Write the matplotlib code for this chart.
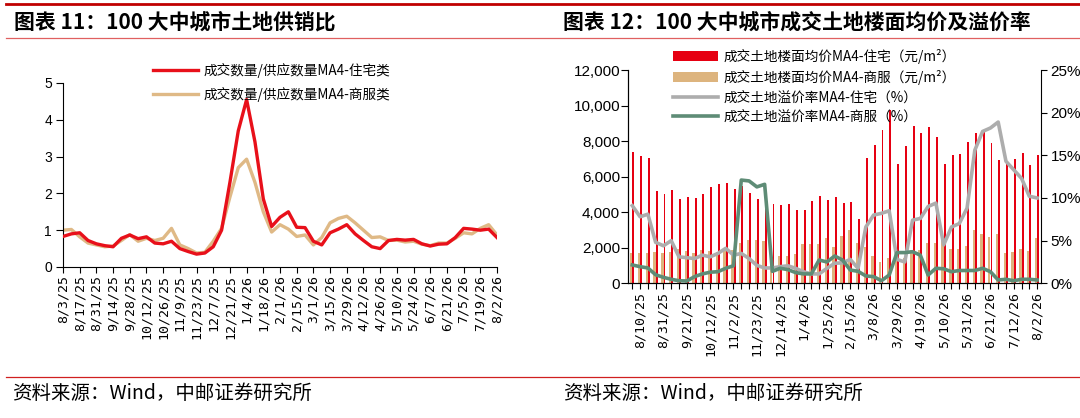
import numpy as np
import pandas as pd
import matplotlib
matplotlib.use('Agg')
import matplotlib.pyplot as plt
from matplotlib.lines import Line2D
from matplotlib.ticker import FuncFormatter

plt.rcParams['font.family'] = ['Liberation Sans', 'Noto Sans CJK SC']
CJK = ['Noto Sans CJK SC', 'DejaVu Sans']

# weekly dates, 8/3/25 .. 8/2/26
weeks = pd.date_range('2025-08-03', '2026-08-02', freq='7D')
week_labels = [f"{d.month}/{d.day}/{d:%y}" for d in weeks]

# chart 11: sales / supply ratio MA4
ratio_resi = [0.83, 0.90, 0.93, 0.72, 0.63, 0.58, 0.55, 0.78, 0.87, 0.77,
              0.82, 0.65, 0.63, 0.70, 0.50, 0.42, 0.35, 0.38, 0.55, 1.00,
              2.30, 3.70, 4.55, 3.40, 1.85, 1.10, 1.35, 1.50, 1.08, 1.07,
              0.70, 0.60, 0.93, 1.03, 1.15, 0.90, 0.72, 0.55, 0.50, 0.72,
              0.75, 0.73, 0.75, 0.63, 0.57, 0.62, 0.63, 0.80, 1.05, 1.03,
              1.00, 1.03, 0.80]
ratio_comm = [1.00, 1.02, 0.82, 0.65, 0.60, 0.55, 0.57, 0.72, 0.88, 0.70,
              0.78, 0.72, 0.78, 1.05, 0.60, 0.50, 0.38, 0.40, 0.70, 1.05,
              1.90, 2.70, 2.93, 2.30, 1.50, 0.95, 1.15, 1.03, 0.83, 0.87,
              0.60, 0.80, 1.20, 1.32, 1.38, 1.20, 1.00, 0.80, 0.82, 0.72,
              0.73, 0.68, 0.70, 0.62, 0.58, 0.65, 0.65, 0.78, 0.93, 0.90,
              1.05, 1.15, 0.87]
ratio_names = ['成交数量/供应数量MA4-住宅类', '成交数量/供应数量MA4-商服类']

# chart 12: floor price (yuan/m2) and premium rate (%)
price_resi = [7400, 7160, 7050, 5190, 5000, 5240, 4730, 4840, 4790, 5040,
              5400, 5590, 5640, 5290, 5490, 5100, 4740, 4930, 4480, 4390,
              4440, 4120, 4120, 4630, 4890, 4690, 4840, 4540, 4550, 3600,
              7050, 7780, 8620, 9750, 6710, 7720, 8850, 8470, 8770, 8230,
              6710, 7220, 7270, 7930, 8440, 8500, 7870, 6920, 6850, 6990,
              7310, 6650, 7220]
price_comm = [1680, 1700, 1720, 1760, 1720, 1760, 1920, 1820, 1700, 1860,
              1820, 1780, 1850, 1900, 2250, 2450, 2420, 2360, 1870, 1550,
              1520, 1650, 2210, 2210, 2210, 2530, 2060, 2660, 3000, 2290,
              2060, 1520, 1200, 1420, 1300, 1450, 1850, 1900, 2290, 2290,
              2470, 1950, 1910, 2120, 3000, 2770, 2620, 2770, 1690, 1760,
              1910, 1800, 2570]
prem_resi = [9.1, 7.8, 8.1, 4.8, 4.4, 5.0, 3.1, 3.0, 2.9, 3.3,
             3.1, 3.5, 4.1, 3.3, 3.5, 2.9, 2.1, 1.8, 1.8, 1.95,
             2.05, 1.75, 1.35, 1.1, 1.1, 1.75, 2.35, 2.4, 2.8, 1.75,
             6.6, 8.0, 8.2, 8.5, 2.8, 2.5, 7.4, 7.6, 9.0, 9.4,
             4.5, 6.6, 7.0, 8.8, 15.6, 17.8, 18.2, 18.9, 14.3, 13.3,
             12.3, 10.2, 10.0]
prem_comm = [2.15, 1.95, 1.8, 1.0, 0.7, 0.47, 0.3, 0.27, 0.78, 1.1,
             1.3, 1.36, 1.76, 2.06, 12.1, 12.0, 11.3, 11.6, 1.4, 1.76,
             1.6, 1.25, 1.1, 1.1, 2.73, 2.5, 3.2, 2.73, 1.56, 1.4,
             0.86, 0.78, 0.3, 0.97, 3.6, 3.6, 3.7, 3.3, 0.97, 1.76,
             1.7, 1.36, 1.5, 1.5, 1.5, 1.76, 1.36, 0.39, 0.47, 0.3,
             0.47, 0.47, 0.39]
price_names = ['成交土地楼面均价MA4-住宅（元/m²）', '成交土地楼面均价MA4-商服（元/m²）',
               '成交土地溢价率MA4-住宅（%）', '成交土地溢价率MA4-商服（%）']

RED = '#E60012'
TAN = '#DDB47E'
GRAY = '#ADADAD'
GREEN = '#5E8C76'

W, H = 1080, 418
fig = plt.figure(figsize=(W / 100, H / 100), dpi=100)

def fx(px):
    return px / W

def fy(px):
    return 1 - px / H

x = np.arange(len(weeks))

# ---- left chart
ax1 = fig.add_axes([fx(63), fy(267), fx(497 - 63), (267 - 83) / H])
ax1.plot(x, ratio_resi, color='#E8101A', lw=2.4, label=ratio_names[0], zorder=3)
ax1.plot(x, ratio_comm, color='#DFB986', lw=2.4, label=ratio_names[1], zorder=2)
ax1.set_xlim(0, len(x) - 1)
ax1.set_ylim(0, 5)
ax1.set_yticks(range(6))
ax1.set_xticks(x[::2])
ax1.set_xticklabels(week_labels[::2], rotation=90, family='DejaVu Sans Mono', fontsize=9.5)
ax1.tick_params(axis='x', length=4, pad=2)
ax1.tick_params(axis='y', length=5, pad=3, labelsize=10)
for s in ['top', 'right']:
    ax1.spines[s].set_visible(False)
ax1.legend(loc='upper left', bbox_to_anchor=(fx(153), fy(63)), bbox_transform=fig.transFigure,
           frameon=False, handlelength=3.3, handletextpad=0.45, labelspacing=0.65,
           borderpad=0, borderaxespad=0, prop={'family': CJK, 'size': 9.8})

# ---- right chart
ax2 = fig.add_axes([fx(628.4), fy(283.3), fx(1041 - 628.4), (283.3 - 70) / H])
b1 = ax2.bar(x + 0.14, price_resi, width=0.25, color=RED, label=price_names[0])
b2 = ax2.bar(x - 0.14, price_comm, width=0.3, color=TAN, label=price_names[1])
ax2.set_xlim(-0.5, len(x) - 0.5)
ax2.set_ylim(0, 12000)
ax2.set_yticks(range(0, 12001, 2000))
ax2.yaxis.set_major_formatter(FuncFormatter(lambda v, p: f"{v:,.0f}"))
ax2.set_xticks(x)
ax2.set_xticklabels([lab if i % 3 == 1 else '' for i, lab in enumerate(week_labels)],
                    rotation=90, family='DejaVu Sans Mono', fontsize=9.5)
ax2.tick_params(axis='x', length=4, pad=2)
ax2.tick_params(axis='y', length=5, pad=1, labelsize=11)
ax2.spines['top'].set_visible(False)
ax2.spines['right'].set_visible(False)

ax3 = ax2.twinx()
l1, = ax3.plot(x, prem_resi, color=GRAY, lw=2.6, label=price_names[2])
l2, = ax3.plot(x, prem_comm, color=GREEN, lw=2.6, label=price_names[3])
ax3.set_ylim(0, 25)
ax3.set_yticks(range(0, 26, 5))
ax3.yaxis.set_major_formatter(FuncFormatter(lambda v, p: f"{v:.0f}%"))
ax3.tick_params(axis='y', length=4, pad=3, labelsize=11)
ax3.spines['top'].set_visible(False)
ax3.legend(handles=[b1, b2, l1, l2], loc='upper left', bbox_to_anchor=(fx(673), fy(49)),
           bbox_transform=fig.transFigure, frameon=False, handlelength=3.3,
           handleheight=0.75, handletextpad=0.45, labelspacing=0.42,
           borderpad=0, borderaxespad=0, prop={'family': CJK, 'size': 9.8})

# ---- page decorations
fig.add_artist(Line2D([fx(6), 1], [fy(4), fy(4)], color='#C00000', lw=2))
fig.add_artist(Line2D([fx(6), 1], [fy(38), fy(38)], color='#E06060', lw=0.9))
fig.add_artist(Line2D([fx(6), 1], [fy(377), fy(377)], color='#D02020', lw=0.9))

fig.text(fx(14), fy(22), '图表 11：100 大中城市土地供销比', fontsize=15, fontweight='bold',
         va='center', family=CJK)
fig.text(fx(563), fy(22), '图表 12：100 大中城市成交土地楼面均价及溢价率', fontsize=15,
         fontweight='bold', va='center', family=CJK)
fig.text(fx(12), fy(393), '资料来源：Wind，中邮证券研究所', fontsize=14, va='center', family=CJK)
fig.text(fx(563), fy(393), '资料来源：Wind，中邮证券研究所', fontsize=14, va='center', family=CJK)

fig.savefig('out.png', dpi=100)
